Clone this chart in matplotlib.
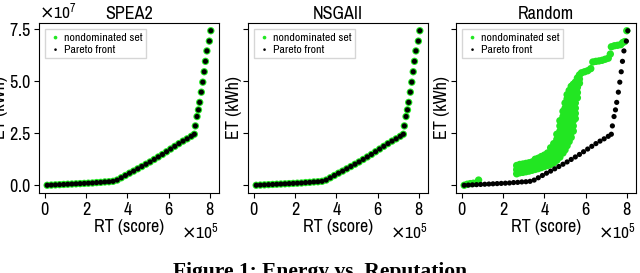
import numpy as np
import matplotlib
matplotlib.use("Agg")
import matplotlib.pyplot as plt
from matplotlib import font_manager as fm

# pick a narrow sans font if one is installed
fonts = fm.fontManager.ttflist
narrow = [f.name for f in fonts if 'Narrow' in f.name or 'Condensed' in f.name]
cond = [f for f in fonts if f.name == 'DejaVu Sans' and f.stretch == 'condensed']
stretch = 'normal'
if narrow:
    family = narrow[0]
elif cond:
    family = 'DejaVu Sans'
    stretch = 'condensed'
else:
    family = 'DejaVu Sans'
plt.rcParams['font.family'] = [family, 'DejaVu Sans']
plt.rcParams['font.stretch'] = stretch

titles = ["SPEA2", "NSGAII", "Random"]

# Pareto front (RT in 1e5, ET in 1e7)
pareto_rt = [0.1, 0.3, 0.5, 0.7, 0.9, 1.1, 1.3, 1.5, 1.7, 1.9, 2.1, 2.3, 2.5,
             2.7, 2.9, 3.1, 3.3, 3.5, 3.7, 3.9, 4.1, 4.3, 4.5, 4.7, 4.9, 5.1,
             5.3, 5.5, 5.7, 5.9, 6.1, 6.3, 6.5, 6.7, 6.9, 7.1, 7.25,
             7.3, 7.38, 7.45, 7.51, 7.59, 7.66, 7.73, 7.79, 7.86, 7.98, 8.05]
pareto_et = [0.0, 0.01, 0.02, 0.03, 0.04, 0.05, 0.06, 0.07, 0.08, 0.09, 0.10,
             0.11, 0.13, 0.14, 0.16, 0.17, 0.19, 0.25, 0.36, 0.47, 0.58, 0.68,
             0.79, 0.90, 1.01, 1.12, 1.24, 1.36, 1.48, 1.61, 1.74, 1.87, 2.00,
             2.12, 2.23, 2.35, 2.45,
             2.85, 3.30, 3.62, 3.98, 4.47, 4.95, 5.45, 5.95, 6.45, 6.92, 7.42]

# SPEA2 and NSGAII nondominated sets lie on the front
spea2_rt, spea2_et = pareto_rt, pareto_et
nsga2_rt, nsga2_et = pareto_rt, pareto_et

# Random nondominated set: outlying points, then the cloud column by column
random_edge_rt = [0.1, 0.25, 0.4, 0.55, 0.8,
                  5.8, 5.95, 6.1, 6.25,
                  6.35, 6.5, 6.65, 6.8, 6.95, 7.1, 7.2,
                  7.25, 7.4, 7.55, 7.7, 7.8, 7.9, 8.0]
random_edge_et = [0.0, 0.05, 0.08, 0.1, 0.25,
                  5.4, 5.45, 5.5, 5.6,
                  5.92, 5.95, 5.97, 6.0, 6.05, 6.1, 6.3,
                  6.65, 6.7, 6.72, 6.75, 6.85, 6.9, 7.42]
cloud_cols = [2.65, 2.8, 2.95, 3.1, 3.25, 3.4, 3.55, 3.7, 3.85, 4.0, 4.15,
              4.3, 4.45, 4.6, 4.75, 4.9, 5.0, 5.1, 5.2, 5.3, 5.4, 5.5, 5.6,
              5.7]
cloud_et = [
    [0.55, 0.75, 0.95],
    [0.6, 0.8, 1.0],
    [0.62, 0.82, 1.02],
    [0.65, 0.85, 1.05],
    [0.68, 0.88, 1.08],
    [0.72, 0.92, 1.12],
    [0.76, 0.96, 1.16, 1.25],
    [0.8, 1.0, 1.2, 1.3],
    [0.85, 1.05, 1.25, 1.38],
    [0.9, 1.1, 1.3, 1.45],
    [0.95, 1.15, 1.35, 1.55],
    [1.0, 1.2, 1.4, 1.6, 1.8],
    [1.08, 1.3, 1.52, 1.75, 2.0],
    [1.2, 1.45, 1.7, 1.95, 2.2, 2.45],
    [1.35, 1.6, 1.85, 2.1, 2.35, 2.6, 2.85, 3.1],
    [1.55, 1.8, 2.05, 2.3, 2.55, 2.8, 3.05, 3.3, 3.55],
    [1.7, 1.95, 2.2, 2.45, 2.7, 2.95, 3.2, 3.45, 3.7, 3.95],
    [1.9, 2.15, 2.4, 2.65, 2.9, 3.15, 3.4, 3.65, 3.9, 4.15, 4.35],
    [2.1, 2.35, 2.6, 2.85, 3.1, 3.35, 3.6, 3.85, 4.1, 4.35, 4.55],
    [2.3, 2.55, 2.8, 3.05, 3.3, 3.55, 3.8, 4.05, 4.3, 4.55, 4.75],
    [2.6, 2.85, 3.1, 3.35, 3.6, 3.85, 4.1, 4.35, 4.6, 4.85],
    [3.2, 3.45, 3.7, 3.95, 4.2, 4.45, 4.7, 4.95],
    [4.2, 4.45, 4.7, 4.95, 5.15],
    [4.9, 5.1, 5.3],
]
random_rt = random_edge_rt + [x for x, ys in zip(cloud_cols, cloud_et) for _ in ys]
random_et = random_edge_et + [y for ys in cloud_et for y in ys]

sets = [(spea2_rt, spea2_et), (nsga2_rt, nsga2_et), (random_rt, random_et)]

green = '#22e622'
fs = 13
fig, axes = plt.subplots(1, 3, figsize=(6.4, 2.73), dpi=100, sharey=True)
lefts = [39, 248, 456]
for ax, left, title, (rt, et) in zip(axes, lefts, titles, sets):
    ax.set_position([left / 640, 1 - 193 / 273, 180 / 640, 170 / 273])
    ax.scatter(np.array(rt) * 1e5, np.array(et) * 1e7, s=28, color=green,
               edgecolors='none', label='nondominated set')
    ax.scatter(np.array(pareto_rt) * 1e5, np.array(pareto_et) * 1e7, s=14,
               color='black', edgecolors='none', label='Pareto front')
    ax.set_title(title, fontsize=fs, pad=3)
    ax.set_xlabel('RT (score)', fontsize=fs, labelpad=1)
    ax.set_ylabel('ET (kWh)', fontsize=fs, labelpad=1)
    ax.set_xticks([0, 2e5, 4e5, 6e5, 8e5])
    ax.set_yticks([0, 2.5e7, 5e7, 7.5e7])
    ax.ticklabel_format(style='sci', scilimits=(0, 0), useMathText=True)
    ax.tick_params(labelsize=fs, pad=2)
    ax.xaxis.get_offset_text().set_fontsize(12.5)
    ax.yaxis.get_offset_text().set_fontsize(12.5)
    ax.legend(loc='upper left', fontsize=8.5, markerscale=0.5,
              handletextpad=0.1, borderpad=0.3, labelspacing=0.15,
              fancybox=False, handlelength=1.2)

fig.text(0.5, 1 - 277 / 273, 'Figure 1: Energy vs. Reputation',
         ha='center', va='baseline', fontsize=15.5, fontweight='bold',
         family=['Liberation Serif', 'DejaVu Serif'], stretch='normal')

fig.savefig('out.png', dpi=100)
